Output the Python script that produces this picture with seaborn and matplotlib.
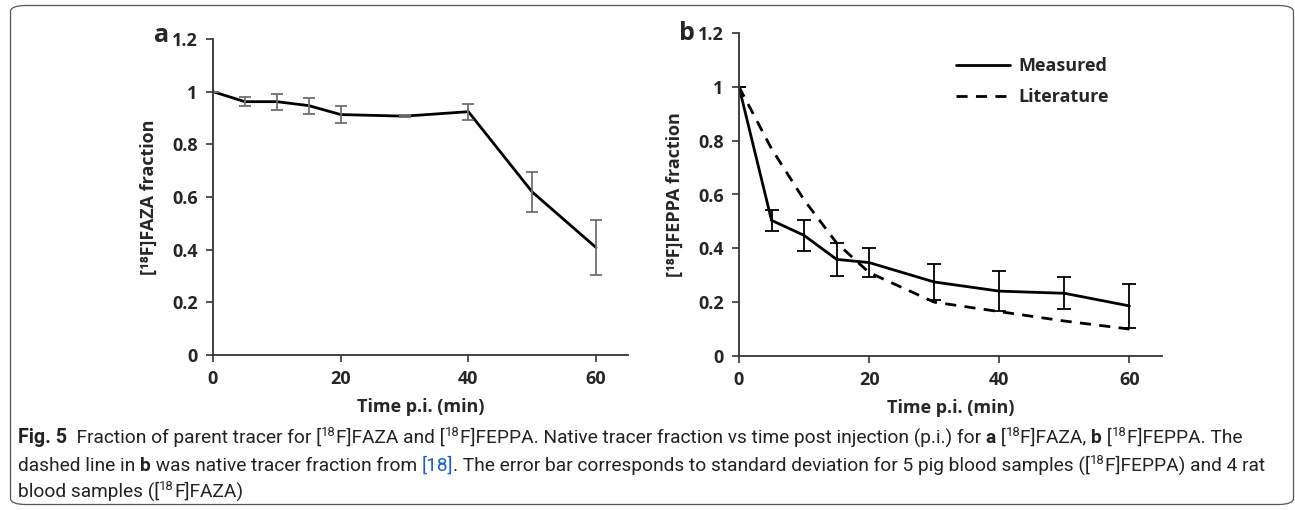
import matplotlib
matplotlib.use("Agg")
import matplotlib.pyplot as plt
import seaborn as sns
import pandas as pd
from matplotlib.patches import FancyBboxPatch

sns.set_theme(style="ticks")
plt.rcParams['font.family'] = ['Open Sans', 'DejaVu Sans']

# ---------------- data ----------------
time_min = [0, 5, 10, 15, 20, 30, 40, 50, 60]
faza_frac = [1.0, 0.962, 0.962, 0.947, 0.913, 0.907, 0.924, 0.619, 0.408]
faza_sd = [0.0, 0.018, 0.030, 0.030, 0.033, 0.005, 0.030, 0.076, 0.103]
feppa_measured = [1.0, 0.504, 0.448, 0.359, 0.347, 0.275, 0.241, 0.233, 0.186]
feppa_sd = [0.0, 0.038, 0.057, 0.060, 0.054, 0.067, 0.075, 0.060, 0.082]
feppa_literature = [1.0, 0.77, 0.58, 0.42, 0.31, 0.20, 0.165, 0.13, 0.10]
x_ticks = [0, 20, 40, 60]
y_ticks = [0, 0.2, 0.4, 0.6, 0.8, 1.0, 1.2]
y_tick_labels = ['0', '0.2', '0.4', '0.6', '0.8', '1', '1.2']

W, H = 1295, 511
fig = plt.figure(figsize=(W / 100, H / 100), dpi=100)
fig.patch.set_facecolor('white')

# border box
border = FancyBboxPatch((10.5 / W, 6.5 / H), (1283 / W), (499 / H),
                        boxstyle="round,pad=0,rounding_size=0.012",
                        transform=fig.transFigure, fill=False,
                        edgecolor='#555555', linewidth=0.9)
fig.patches.append(border)

def px_axes(left, right, top, bottom):
    return fig.add_axes([left / W, (H - bottom) / H, (right - left) / W, (bottom - top) / H])

ax_a = px_axes(213, 628, 39, 355)
ax_b = px_axes(739, 1162, 33, 356)

df_a = pd.DataFrame({'time': time_min, 'frac': faza_frac})
df_b = pd.DataFrame({'time': time_min * 2,
                     'frac': feppa_measured + feppa_literature,
                     'series': ['Measured'] * len(time_min) + ['Literature'] * len(time_min)})

# panel a
sns.lineplot(data=df_a, x='time', y='frac', ax=ax_a, color='black', lw=2.0)
ax_a.errorbar(time_min, faza_frac, yerr=faza_sd, fmt='none', ecolor='#707070',
              elinewidth=1.3, capsize=4, capthick=1.3)

# panel b
sns.lineplot(data=df_b, x='time', y='frac', hue='series', style='series',
             palette={'Measured': 'black', 'Literature': 'black'},
             dashes={'Measured': '', 'Literature': (4, 3)},
             ax=ax_b, lw=2.0)
ax_b.errorbar(time_min, feppa_measured, yerr=feppa_sd, fmt='none', ecolor='black',
              elinewidth=1.3, capsize=5, capthick=1.3)

for ax, ylab in [(ax_a, '[¹⁸F]FAZA fraction'), (ax_b, '[¹⁸F]FEPPA fraction')]:
    ax.set_xlim(0, 65)
    ax.set_ylim(0, 1.2)
    ax.set_xticks(x_ticks)
    ax.set_yticks(y_ticks)
    ax.set_yticklabels(y_tick_labels)
    for s in ['top', 'right']:
        ax.spines[s].set_visible(False)
    for s in ['left', 'bottom']:
        ax.spines[s].set_color('#333333')
        ax.spines[s].set_linewidth(1.3)
    ax.tick_params(axis='both', direction='out', length=5, width=1.2, color='#333333',
                   labelsize=13, pad=6)
    for lab in ax.get_xticklabels() + ax.get_yticklabels():
        lab.set_fontweight('bold')
    ax.set_xlabel('Time p.i. (min)', fontsize=13, fontweight='bold', labelpad=7)
    ax.set_ylabel(ylab, fontsize=13, fontweight='bold', labelpad=10,
                  family=['Open Sans', 'DejaVu Sans'])
    ax.set_facecolor('white')

leg = ax_b.legend(loc='upper right', bbox_to_anchor=(0.90, 0.958), frameon=False,
                  fontsize=13, handlelength=3.0, handletextpad=0.45, labelspacing=0.72,
                  borderaxespad=0.2)
for t in leg.get_texts():
    t.set_fontweight('bold')

fig.text(162 / W, 1 - 35 / H, 'a', fontsize=18, fontweight='bold', ha='center', va='center')
fig.text(687 / W, 1 - 33 / H, 'b', fontsize=18, fontweight='bold', ha='center', va='center')

# ---------------- caption ----------------
cap_family = ['Roboto', 'DejaVu Sans']
cap_size = 13.75
renderer = fig.canvas.get_renderer()

def draw_runs(runs, x0, y0):
    x = x0
    for txt, kind in runs:
        kw = dict(fontsize=cap_size, family=cap_family, color='#222222', va='baseline', ha='left')
        yy = y0
        if kind == 'b':
            kw['fontweight'] = 'bold'
        elif kind == 'sup':
            kw['fontsize'] = cap_size * 0.68
            yy = y0 - 7
        elif kind == 'link':
            kw['color'] = '#1f5fbf'
        elif kind == 'fig':
            kw['fontweight'] = 'bold'
            kw['fontsize'] = cap_size + 0.5
        t = fig.text(x / W, 1 - yy / H, txt, **kw)
        bb = t.get_window_extent(renderer=renderer)
        x += bb.width

S = 'sup'
line1 = [('Fig. 5', 'fig'), ('  Fraction of parent tracer for [', ''), ('18', S), ('F]FAZA and [', ''),
         ('18', S), ('F]FEPPA. Native tracer fraction vs time post injection (p.i.) for ', ''),
         ('a', 'b'), (' [', ''), ('18', S), ('F]FAZA, ', ''), ('b', 'b'), (' [', ''), ('18', S),
         ('F]FEPPA. The', '')]
line2 = [('dashed line in ', ''), ('b', 'b'), (' was native tracer fraction from ', ''),
         ('[18]', 'link'),
         ('. The error bar corresponds to standard deviation for 5 pig blood samples ([', ''),
         ('18', S), ('F]FEPPA) and 4 rat', '')]
line3 = [('blood samples ([', ''), ('18', S), ('F]FAZA)', '')]
draw_runs(line1, 18, 443)
draw_runs(line2, 18, 471)
draw_runs(line3, 18, 497)

fig.savefig('out.png', dpi=100, facecolor='white')
